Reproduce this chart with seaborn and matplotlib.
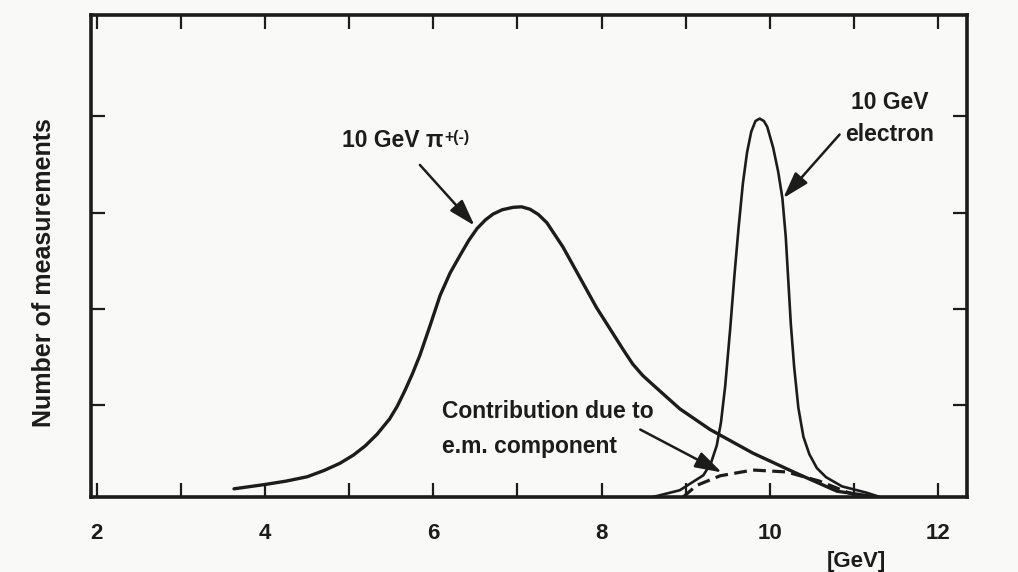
import matplotlib
matplotlib.use('Agg')
import matplotlib.pyplot as plt
import seaborn as sns

pion_energy = [3.63, 4.00, 4.25, 4.50, 4.70, 4.89, 5.05, 5.19, 5.33, 5.48, 5.57, 5.66,
               5.75, 5.84, 5.96, 6.08, 6.20, 6.32, 6.42, 6.52, 6.62, 6.71, 6.82,
               6.95, 7.05, 7.15, 7.25, 7.35, 7.54, 7.74, 7.94, 8.14, 8.26, 8.37,
               8.49, 8.61, 8.93, 9.29, 9.80, 10.32, 10.80, 11.27]
pion_counts = [1.7, 2.6, 3.3, 4.2, 5.5, 7.0, 8.7, 10.6, 13.0, 16.2, 18.8, 22.0,
               25.5, 29.4, 35.5, 41.8, 46.5, 50.2, 53.2, 55.7, 57.5, 58.7, 59.6,
               60.1, 60.2, 59.7, 58.6, 56.9, 51.9, 45.6, 39.3, 33.8, 30.5, 27.6,
               25.2, 23.3, 18.3, 14.0, 9.1, 4.9, 1.2, 0.0]

electron_energy = [8.61, 8.93, 9.21, 9.30, 9.37, 9.42, 9.47, 9.53, 9.58, 9.63, 9.68,
                   9.73, 9.78, 9.83, 9.88, 9.93, 9.97, 10.04, 10.10, 10.15, 10.19,
                   10.22, 10.25, 10.29, 10.34, 10.40, 10.47, 10.56, 10.67, 10.86,
                   11.15, 11.31]
electron_counts = [0.0, 1.4, 4.5, 7.0, 10.7, 15.5, 23.0, 35.0, 46.0, 56.0, 65.0,
                   71.5, 75.8, 78.0, 78.5, 78.0, 76.8, 72.5, 67.5, 62.0, 54.0,
                   45.0, 36.0, 27.0, 18.5, 12.5, 8.9, 6.0, 4.1, 2.2, 0.9, 0.0]

em_energy = [8.97, 9.13, 9.41, 9.80, 10.20, 10.59, 10.92, 11.01]
em_counts = [0.0, 2.4, 4.4, 5.6, 5.2, 3.3, 1.0, 0.5]

xtick_values = [2, 4, 6, 8, 10, 12]
xtick_minor = [3, 5, 7, 9, 11]

ink = '#1c1c1c'
paper = '#f9f9f7'

sns.set_theme(style='ticks')
plt.rcParams['font.family'] = ['Liberation Sans', 'DejaVu Sans']
plt.rcParams['font.weight'] = 'bold'
plt.rcParams['text.color'] = ink

fig = plt.figure(figsize=(10.18, 5.72), dpi=100, facecolor=paper)
ax = fig.add_axes([0.0894, 0.1311, 0.8605, 0.8427], facecolor=paper)

sns.lineplot(x=pion_energy, y=pion_counts, sort=False, estimator=None,
             color=ink, lw=2.4, ax=ax)
sns.lineplot(x=electron_energy, y=electron_counts, sort=False, estimator=None,
             color=ink, lw=1.9, ax=ax)
sns.lineplot(x=em_energy, y=em_counts, sort=False, estimator=None,
             color=ink, lw=2.3, ax=ax)
ax.lines[-1].set_dashes((4, 2))
for ln in ax.lines:
    ln.set_solid_joinstyle('round')

ax.set_xlim(1.93, 12.345)
ax.set_ylim(0, 100)
ax.set_xticks(xtick_values)
ax.set_xticks(xtick_minor, minor=True)
ax.set_yticks([19, 39, 59, 79])
ax.set_yticklabels([])
ax.tick_params(which='both', direction='in', length=10, width=1.6, color=ink,
               top=True, right=True, labelsize=16, pad=19, labelcolor=ink)
for s in ax.spines.values():
    s.set_linewidth(2.6)
    s.set_color(ink)

ax.set_ylabel('Number of measurements', fontsize=18, fontweight='bold', color=ink)
ax.yaxis.set_label_coords(-0.040, 0.465)
ax.set_xlabel('[GeV]', fontsize=16, fontweight='bold', color=ink)
ax.xaxis.set_label_coords(0.874, -0.112)

arrow = dict(arrowstyle='-|>,head_length=0.9,head_width=0.28', color=ink,
             lw=1.8, shrinkA=0, shrinkB=0, mutation_scale=18)

# pion label with superscript charge
lab = ax.text(4.91, 72.7, '10 GeV π', fontsize=16.5, ha='left', va='baseline')
ax.annotate('+(-)', xy=(1, 0), xycoords=lab, xytext=(1, 7),
            textcoords='offset points', fontsize=11.5, va='baseline', ha='left')
ax.annotate('', xy=(6.49, 56.3), xytext=(5.84, 68.9), arrowprops=arrow)

ax.text(11.43, 80.4, '10 GeV', fontsize=16.5, ha='center', va='baseline')
ax.text(11.43, 73.8, 'electron', fontsize=16.5, ha='center', va='baseline')
ax.annotate('', xy=(10.16, 62.0), xytext=(10.83, 75.2), arrowprops=arrow)

ax.text(6.10, 16.3, 'Contribution due to', fontsize=16.5, ha='left', va='baseline')
ax.text(6.10, 9.2, 'e.m. component', fontsize=16.5, ha='left', va='baseline')
ax.annotate('', xy=(9.43, 5.1), xytext=(8.46, 14.0), arrowprops=arrow)

fig.savefig('out.png', dpi=100, facecolor=paper)
